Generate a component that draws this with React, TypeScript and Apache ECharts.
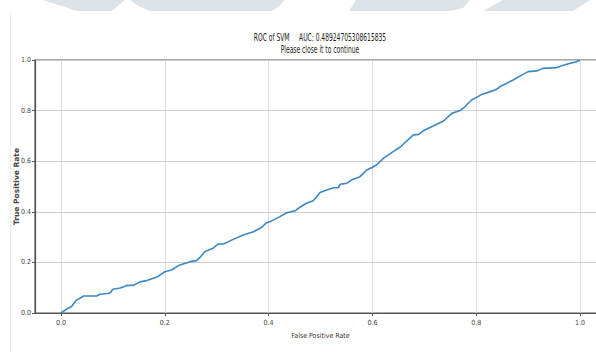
import React, { useEffect, useRef } from "react";
import * as echarts from "echarts";

const fprValues = [
  0.0, 0.014, 0.02, 0.03, 0.04, 0.043, 0.069, 0.075, 0.094, 0.1, 0.114, 0.127, 0.139, 0.152, 0.165,
  0.184, 0.2, 0.213, 0.229, 0.249, 0.261, 0.268, 0.277, 0.293, 0.303, 0.313, 0.332, 0.351, 0.371,
  0.387, 0.396, 0.406, 0.422, 0.435, 0.451, 0.46, 0.473, 0.486, 0.499, 0.512, 0.525, 0.534, 0.538,
  0.551, 0.56, 0.576, 0.589, 0.602, 0.608, 0.621, 0.64, 0.653, 0.679, 0.689, 0.698, 0.717, 0.737,
  0.753, 0.769, 0.778, 0.791, 0.811, 0.827, 0.839, 0.846, 0.871, 0.891, 0.9, 0.917, 0.929, 0.955,
  0.974, 0.993, 1.0,
];
const tprValues = [
  0.0, 0.019, 0.025, 0.051, 0.062, 0.067, 0.067, 0.074, 0.078, 0.094, 0.099, 0.109, 0.109, 0.123,
  0.128, 0.141, 0.163, 0.17, 0.19, 0.203, 0.207, 0.22, 0.242, 0.256, 0.273, 0.273, 0.291, 0.308,
  0.321, 0.339, 0.357, 0.364, 0.381, 0.396, 0.404, 0.418, 0.434, 0.444, 0.476, 0.486, 0.495, 0.495,
  0.509, 0.513, 0.526, 0.539, 0.565, 0.578, 0.585, 0.611, 0.638, 0.655, 0.704, 0.706, 0.72, 0.739,
  0.759, 0.789, 0.8, 0.815, 0.842, 0.864, 0.875, 0.884, 0.895, 0.921, 0.944, 0.954, 0.957, 0.967,
  0.97, 0.983, 0.993, 1.0,
];
const titleLines = ["ROC of SVM     AUC: 0.48924705308615835", "Please close it to continue"];
const xAxisName = "False Positive Rate";
const yAxisName = "True Positive Rate";

const WM = "#dce3e8";

export default function App() {
  const ref = useRef<HTMLDivElement>(null);
  useEffect(() => {
    document.body.style.margin = "0";
    const chart = echarts.init(ref.current!, null, { renderer: "svg" });
    const narrow = "'Liberation Sans Narrow', 'DejaVu Sans Condensed', 'Roboto Condensed', sans-serif";
    chart.setOption({
      animation: false,
      backgroundColor: "#ffffff",
      grid: {
        left: 35,
        top: 60,
        width: 571,
        height: 253,
        containLabel: false,
        outerBoundsMode: "none",
        show: true,
        borderColor: "#555555",
        borderWidth: 1.2,
      },
      xAxis: {
        type: "value",
        min: -0.05,
        max: 1.05,
        splitNumber: 5,
        name: xAxisName,
        nameLocation: "middle",
        nameGap: 19,
        nameMoveOverlap: false,
        nameTextStyle: { fontFamily: narrow, fontSize: 7, color: "#333" },
        axisLine: { show: true, onZero: false, lineStyle: { color: "#555555", width: 1.2 } },
        axisTick: { show: true, length: 3, lineStyle: { color: "#555" } },
        axisLabel: {
          fontFamily: narrow,
          fontSize: 7,
          color: "#444",
          margin: 6,
          showMinLabel: false,
          showMaxLabel: false,
          formatter: (v: number) =>
            Math.abs(v * 5 - Math.round(v * 5)) < 1e-6 && v >= 0 && v <= 1 ? v.toFixed(1) : "",
        },
        splitLine: { show: true, lineStyle: { color: "#dadada", width: 1 } },
      },
      yAxis: {
        type: "value",
        min: 0,
        max: 1,
        interval: 0.2,
        name: yAxisName,
        nameLocation: "middle",
        nameGap: 15,
        nameMoveOverlap: false,
        nameTextStyle: { fontFamily: "'DejaVu Sans', sans-serif", fontSize: 7.5, fontWeight: "bold", color: "#444" },
        axisLine: { show: true, onZero: false, lineStyle: { color: "#555555", width: 1.2 } },
        axisTick: { show: true, length: 3, lineStyle: { color: "#555" } },
        axisLabel: {
          fontFamily: narrow,
          fontSize: 7,
          color: "#444",
          margin: 4,
          formatter: (v: number) => v.toFixed(1),
        },
        splitLine: { show: true, lineStyle: { color: "#cccccc", width: 1 } },
      },
      series: [
        {
          type: "line",
          data: fprValues.map((x, i) => [x, tprValues[i]]),
          showSymbol: false,
          lineStyle: { color: "#3a88c6", width: 1.6 },
        },
      ],
      graphic: [
        { type: "polygon", shape: { points: [[43, 0], [125, 0], [112, 11], [77, 11]] }, style: { fill: WM }, silent: true },
        { type: "polygon", shape: { points: [[130, 0], [284, 0], [280, 6], [272, 11], [150, 11], [138, 6]] }, style: { fill: WM }, silent: true },
        { type: "polygon", shape: { points: [[356, 0], [470, 0], [463, 8], [450, 11], [349, 11]] }, style: { fill: WM }, silent: true },
        { type: "polygon", shape: { points: [[503, 0], [590, 0], [573, 11], [483, 11]] }, style: { fill: WM }, silent: true },
        { type: "line", shape: { x1: 10.5, y1: 12, x2: 10.5, y2: 352 }, style: { stroke: "#eeeeee", lineWidth: 1 }, silent: true },
        {
          type: "text",
          x: 320,
          y: 37,
          scaleX: 0.6,
          style: { text: titleLines[0], fontSize: 10, fontFamily: "'DejaVu Sans', sans-serif", fill: "#222", textAlign: "center", textVerticalAlign: "middle" },
        },
        {
          type: "text",
          x: 320,
          y: 49,
          scaleX: 0.6,
          style: { text: titleLines[1], fontSize: 10, fontFamily: "'DejaVu Sans', sans-serif", fill: "#222", textAlign: "center", textVerticalAlign: "middle" },
        },
      ],
    });
    return () => chart.dispose();
  }, []);
  return <div ref={ref} style={{ width: 596, height: 352 }} />;
}
